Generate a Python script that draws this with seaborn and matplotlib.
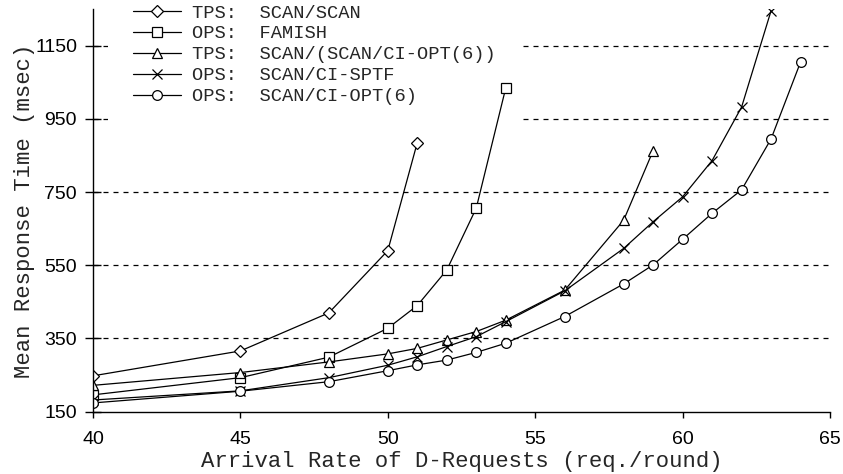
import numpy as np
import pandas as pd
import matplotlib
matplotlib.use('Agg')
import matplotlib.pyplot as plt
import seaborn as sns

# values (msec)
x_scan_scan = [40, 45, 48, 50, 51]
y_scan_scan = [248, 316, 420, 590, 885]

x_famish = [40, 45, 48, 50, 51, 52, 53, 54]
y_famish = [196, 243, 299, 378, 440, 537, 706, 1034]

x_tps_opt = [40, 45, 48, 50, 51, 52, 53, 54, 56, 58, 59]
y_tps_opt = [222, 257, 286, 308, 323, 346, 369, 400, 482, 673, 863]

x_sptf = [40, 45, 48, 50, 51, 52, 53, 54, 56, 58, 59, 60, 61, 62, 63]
y_sptf = [182, 207, 243, 277, 300, 328, 355, 396, 480, 596, 669, 737, 836, 982, 1245]

x_opt6 = [40, 45, 48, 50, 51, 52, 53, 54, 56, 58, 59, 60, 61, 62, 63, 64]
y_opt6 = [174, 206, 232, 262, 278, 291, 312, 337, 410, 499, 551, 621, 692, 756, 895, 1105]

labels = ['TPS:  SCAN/SCAN', 'OPS:  FAMISH', 'TPS:  SCAN/(SCAN/CI-OPT(6))',
          'OPS:  SCAN/CI-SPTF', 'OPS:  SCAN/CI-OPT(6)']
markers = ['D', 's', '^', 'x', 'o']
msizes = [6, 6.5, 7.5, 7.5, 7]

y_ticks = [150, 350, 550, 750, 950, 1150]
x_ticks = [40, 45, 50, 55, 60, 65]

series = [(x_scan_scan, y_scan_scan), (x_famish, y_famish), (x_tps_opt, y_tps_opt),
          (x_sptf, y_sptf), (x_opt6, y_opt6)]

sns.set_style('ticks')
plt.rcParams['font.family'] = ['Liberation Sans', 'DejaVu Sans']

fig = plt.figure(figsize=(8.43, 4.74), dpi=100, facecolor='white')
ax = fig.add_axes([0.1103, 0.1314, 0.8743, 0.8496])

# dashed horizontal grid
for v in y_ticks[1:]:
    ax.axhline(v, color='black', lw=0.9, ls=(0, (4, 4)), zorder=0)

for (xs, ys), lab, mk, ms in zip(series, labels, markers, msizes):
    df = pd.DataFrame({'rate': xs, 'resp': ys})
    sns.lineplot(data=df, x='rate', y='resp', ax=ax, color='black', lw=0.9,
                 marker=mk, markersize=ms, markerfacecolor='white',
                 markeredgecolor='black', markeredgewidth=0.9, label=lab)

ax.set_xlim(40, 65)
ax.set_ylim(150, 1250)
ax.set_xticks(x_ticks)
ax.set_yticks(y_ticks)
ax.tick_params(axis='x', direction='out', length=4, width=1, pad=10, labelsize=14, colors='black')
ax.tick_params(axis='y', direction='inout', length=11, width=1, pad=6, labelsize=14, colors='black')

for side in ['top', 'right']:
    ax.spines[side].set_visible(False)
for side in ['left', 'bottom']:
    ax.spines[side].set_color('black')
    ax.spines[side].set_linewidth(1)

mono = {'family': 'Liberation Mono', 'size': 16}
ax.set_xlabel('Arrival Rate of D-Requests (req./round)', fontdict=mono, labelpad=2)
ax.set_ylabel('Mean Response Time (msec)', fontdict=mono, labelpad=0)

leg = ax.legend(loc='upper left', bbox_to_anchor=(0.008, 1.095), prop={'family': 'Liberation Mono', 'size': 13.5},
                frameon=True, fancybox=False, edgecolor='none', facecolor='white', framealpha=1,
                handlelength=2.6, handletextpad=0.55, labelspacing=0.2, borderpad=1.3)
leg.set_zorder(1)

plt.savefig('out.png', dpi=100, facecolor='white')
